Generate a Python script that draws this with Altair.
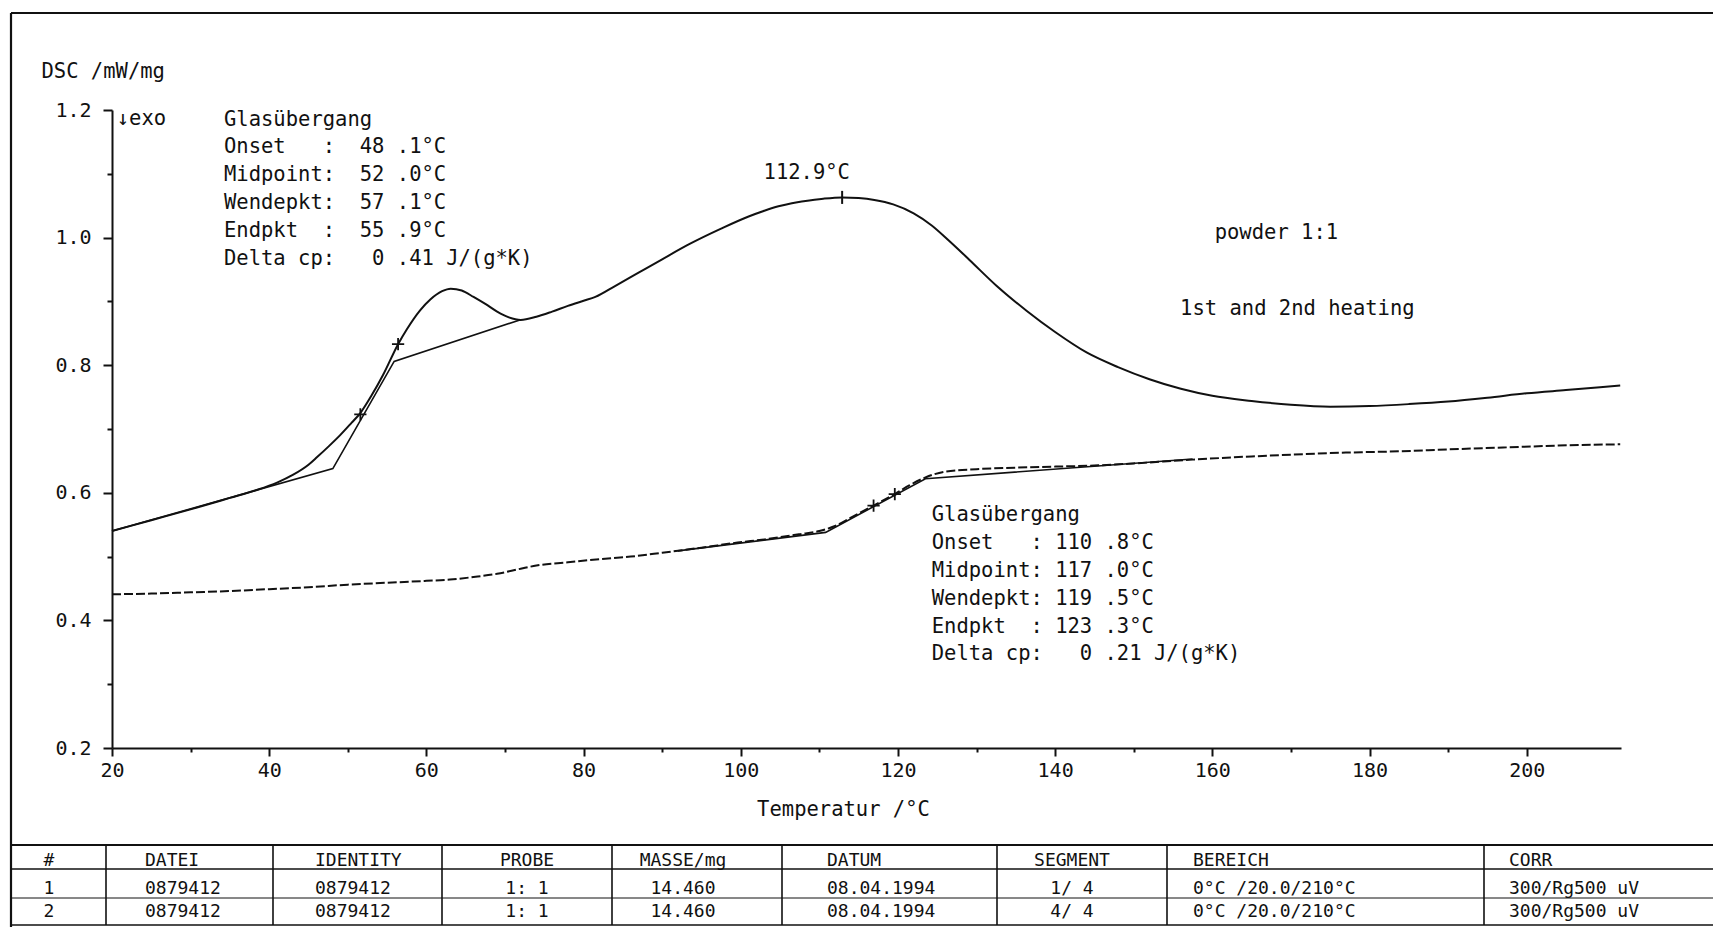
import altair as alt
import pandas as pd

# ---------------- data ----------------
# 1st heating (solid curve)
heat1_T = [20, 25, 30, 35, 38.3, 41, 43, 45, 46.1, 47.5, 49, 50.5, 51.6, 53, 54.5, 56.4,
           57.5, 59.2, 60.5, 62, 63.1, 64.5, 66, 67.5, 69, 70.5, 72, 74, 76, 78, 80, 81.5,
           84, 87, 90, 93.5, 97.5, 101, 103, 104.8, 106.5, 108, 110.5, 112.9, 115, 117, 119.4, 122,
           124.3, 126.5, 129.1, 132.5, 136.4, 140, 144, 148, 152, 156, 160, 165, 170, 175,
           180, 185, 190, 195, 200, 205, 211.9]
heat1_dsc = [0.540, 0.557, 0.574, 0.592, 0.604, 0.616, 0.628, 0.644, 0.656, 0.672, 0.690,
             0.710, 0.725, 0.752, 0.785, 0.833, 0.856, 0.886, 0.903, 0.916, 0.920, 0.917,
             0.907, 0.896, 0.884, 0.875, 0.871, 0.876, 0.884, 0.893, 0.901, 0.907, 0.924,
             0.945, 0.966, 0.990, 1.014, 1.033, 1.042, 1.049, 1.054, 1.057, 1.061, 1.063, 1.062, 1.059,
             1.052, 1.038, 1.019, 0.995, 0.965, 0.925, 0.885, 0.852, 0.820, 0.797, 0.778,
             0.763, 0.752, 0.744, 0.738, 0.735, 0.736, 0.739, 0.743, 0.749, 0.756, 0.761,
             0.768]

# 2nd heating (dashed curve)
heat2_T = [20, 25, 30, 35, 40, 45, 50, 55, 60, 63, 66, 69, 72, 74, 78, 82, 86, 90, 95,
           99.6, 103, 107.4, 110, 112, 114, 116.9, 119.6, 121.5, 123.5, 125.9, 130, 136.6,
           145.5, 150, 157.5, 165, 170.4, 177, 183.7, 190, 197, 204, 211.9]
heat2_dsc = [0.441, 0.442, 0.444, 0.446, 0.449, 0.452, 0.456, 0.459, 0.462, 0.464, 0.468,
             0.473, 0.481, 0.486, 0.491, 0.496, 0.500, 0.506, 0.514, 0.522, 0.527, 0.535,
             0.540, 0.548, 0.561, 0.580, 0.598, 0.612, 0.624, 0.633, 0.637, 0.640, 0.643,
             0.646, 0.652, 0.657, 0.660, 0.663, 0.665, 0.668, 0.671, 0.674, 0.676]

# glass-transition construction lines (onset / end tangents)
tan1_T = [20.0, 48.1, 55.9, 71.9]
tan1_dsc = [0.540, 0.638, 0.806, 0.871]
tan2_T = [92.0, 110.8, 123.5, 157.5]
tan2_dsc = [0.509, 0.538, 0.622, 0.653]

# marks on the curves
cross_T = [51.6, 56.4, 116.9, 119.6]
cross_dsc = [0.723, 0.833, 0.580, 0.598]
peak_T = [112.9]
peak_dsc = [1.063]

# tick values
x_ticks = [20, 30, 40, 50, 60, 70, 80, 90, 100, 110, 120, 130, 140, 150, 160, 170, 180, 190, 200]
y_ticks = [0.2, 0.3, 0.4, 0.5, 0.6, 0.7, 0.8, 0.9, 1.0, 1.1, 1.2]

# annotation texts
block1 = ["Glasübergang",
          "Onset   :  48 .1°C",
          "Midpoint:  52 .0°C",
          "Wendepkt:  57 .1°C",
          "Endpkt  :  55 .9°C",
          "Delta cp:   0 .41 J/(g*K)"]
block2 = ["Glasübergang",
          "Onset   : 110 .8°C",
          "Midpoint: 117 .0°C",
          "Wendepkt: 119 .5°C",
          "Endpkt  : 123 .3°C",
          "Delta cp:   0 .21 J/(g*K)"]

# table
table_header = ["#", "DATEI", "IDENTITY", "PROBE", "MASSE/mg", "DATUM", "SEGMENT", "BEREICH", "CORR"]
table_row1 = ["1", "0879412", "0879412", "1: 1", "14.460", "08.04.1994", "1/ 4", "0°C /20.0/210°C", "300/Rg500 uV"]
table_row2 = ["2", "0879412", "0879412", "1: 1", "14.460", "08.04.1994", "4/ 4", "0°C /20.0/210°C", "300/Rg500 uV"]

# ---------------- layout (page pixels) ----------------
LEFT, TOP = 112, 110
W, H = 1509, 638
PAGE_W, PAGE_H = 1713, 927
FONT = "DejaVu Sans Mono"
INK = "#111111"

col_x = [49, 145, 315, 527, 683, 827, 1072, 1193, 1509]
col_align = ["center", "left", "left", "center", "center", "left", "center", "left", "left"]
row_base = [866, 894, 917]
sep_x = [106, 273, 442, 612, 782, 997, 1167, 1484]
table_top, table_hdr, table_mid, table_bot = 845, 869, 898, 925
frame_left, frame_top = 11, 13

NBSP = "\u00a0"


def keep_spaces(s):
    return s.replace(" ", NBSP)


# ---------------- chart ----------------
xs = alt.Scale(domain=[20, 212], nice=False, zero=False)
ys = alt.Scale(domain=[0.2, 1.2], nice=False, zero=False)

x_axis = alt.Axis(values=x_ticks, title=None, grid=False, format="d",
                  labelExpr="datum.value % 20 === 0 ? datum.label : ''",
                  tickSize={"condition": {"test": "datum.value % 20 === 0", "value": 8}, "value": 4},
                  labelPadding=4, labelFont=FONT, labelFontSize=20, labelColor=INK,
                  domainColor=INK, domainWidth=2, tickColor=INK, tickWidth=2, labelFlush=False)
y_axis = alt.Axis(values=y_ticks, title=None, grid=False,
                  labelExpr="round(datum.value*10) % 2 === 0 ? format(datum.value, '.1f') : ''",
                  tickSize={"condition": {"test": "round(datum.value*10) % 2 === 0", "value": 9}, "value": 5},
                  labelPadding=12, labelFont=FONT, labelFontSize=20, labelColor=INK,
                  domainColor=INK, domainWidth=2, tickColor=INK, tickWidth=2, labelFlush=False)

X = alt.X("T:Q", scale=xs, axis=x_axis)
Y = alt.Y("dsc:Q", scale=ys, axis=y_axis)


def px(v):
    return alt.value(v - LEFT)


def py(v):
    return alt.value(v - TOP)


df1 = pd.DataFrame({"T": heat1_T, "dsc": heat1_dsc})
df2 = pd.DataFrame({"T": heat2_T, "dsc": heat2_dsc})
dt1 = pd.DataFrame({"T": tan1_T, "dsc": tan1_dsc})
dt2 = pd.DataFrame({"T": tan2_T, "dsc": tan2_dsc})
dcross = pd.DataFrame({"T": cross_T, "dsc": cross_dsc})
dpeak = pd.DataFrame({"T": peak_T, "dsc": peak_dsc})

layers = []
layers.append(alt.Chart(df1).mark_line(color=INK, strokeWidth=2, interpolate="monotone").encode(x=X, y=Y))
layers.append(alt.Chart(df2).mark_line(color=INK, strokeWidth=2, strokeDash=[9, 3],
                                       interpolate="monotone").encode(x=X, y=Y))
layers.append(alt.Chart(dt1).mark_line(color=INK, strokeWidth=1.6).encode(x=X, y=Y))
layers.append(alt.Chart(dt2).mark_line(color=INK, strokeWidth=1.6).encode(x=X, y=Y))
layers.append(alt.Chart(dcross).mark_point(shape="M-1,0L1,0M0,-1L0,1", size=150, filled=False,
                                           color=INK, strokeWidth=1.8, opacity=1).encode(x=X, y=Y))
layers.append(alt.Chart(dpeak).mark_point(shape="M0,-1L0,1", size=170, filled=False,
                                          color=INK, strokeWidth=2, opacity=1).encode(x=X, y=Y))


def anno(text, T, dsc, align="left", size=20.5):
    d = pd.DataFrame({"T": [T], "dsc": [dsc], "t": [keep_spaces(text)]})
    return alt.Chart(d).mark_text(align=align, baseline="alphabetic", font=FONT, fontSize=size,
                                  lineBreak="\n", lineHeight=27.9, color=INK).encode(
        x=X, y=Y, text="t:N")


# in-plot annotations anchored in data units
layers.append(anno("\n".join(block1), 34.25, 1.1757))
layers.append(anno("\n".join(block2), 124.3, 0.5558))
layers.append(anno("112.9°C", 108.4, 1.092, align="center"))
layers.append(anno("powder 1:1", 160.3, 0.998))
layers.append(anno("1st and 2nd heating", 155.9, 0.878))
layers.append(anno("↓exo", 20.6, 1.177))

dummy = pd.DataFrame({"k": [0]})


def ptext(text, x, y, align="left", size=20.5):
    return alt.Chart(dummy).mark_text(text=keep_spaces(text), align=align, baseline="alphabetic",
                                      font=FONT, fontSize=size, color=INK).encode(x=px(x), y=py(y))


def seg(x1, y1, x2, y2, w=1.6):
    return alt.Chart(dummy).mark_rule(color=INK, strokeWidth=w).encode(
        x=px(x1), x2=px(x2), y=py(y1), y2=py(y2))


# axis titles
layers.append(ptext("DSC /mW/mg", 41.5, 77.5))
layers.append(ptext("Temperatur /°C", 843.5, 816, align="center"))

# frame
layers.append(seg(frame_left, frame_top, PAGE_W, frame_top, w=2.2))
layers.append(seg(frame_left, frame_top, frame_left, PAGE_H, w=2.2))

# table grid
layers.append(seg(frame_left, table_top, PAGE_W, table_top, w=1.8))
layers.append(seg(frame_left, table_hdr, PAGE_W, table_hdr, w=1.4))
layers.append(seg(frame_left, table_mid, PAGE_W, table_mid, w=1.0))
layers.append(seg(frame_left, table_bot, PAGE_W, table_bot, w=1.4))
for sx in sep_x:
    layers.append(seg(sx, table_top, sx, table_bot, w=1.6))

# table text
for r, row in enumerate([table_header, table_row1, table_row2]):
    for c, cell in enumerate(row):
        layers.append(ptext(cell, col_x[c], row_base[r], align=col_align[c], size=18))

chart = alt.layer(*layers).properties(
    width=W, height=H,
    padding={"left": LEFT, "top": TOP, "right": PAGE_W - LEFT - W, "bottom": PAGE_H - TOP - H},
    autosize=alt.AutoSizeParams(type="none"),
    background="white",
).configure_view(stroke=None)

chart.save("out.html", embed_options={"renderer": "svg", "actions": False})
